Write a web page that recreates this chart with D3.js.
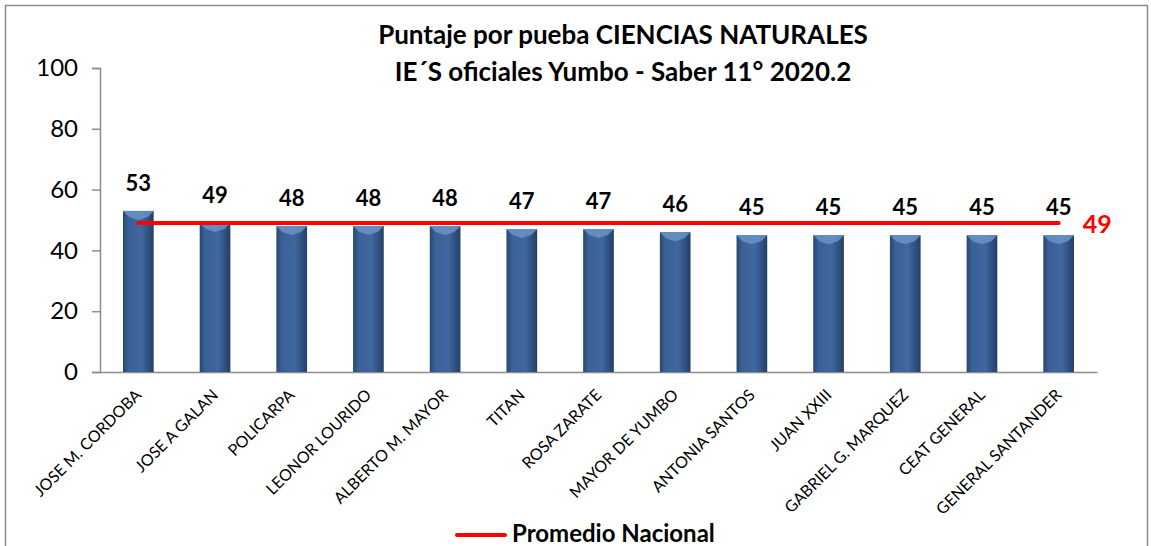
<!DOCTYPE html>
<meta charset="utf-8">
<head>
  <script src="https://d3js.org/d3.v7.min.js"></script>
  <style>
    body { margin: 0; background: #fff; }
    text { font-family: Lato, "Open Sans", sans-serif; }
  </style>
</head>
<body>
  <div id="chart"></div>
<script>
  // data
  var schools = ["JOSE M. CORDOBA", "JOSE A GALAN", "POLICARPA", "LEONOR LOURIDO",
    "ALBERTO M. MAYOR", "TITAN", "ROSA ZARATE", "MAYOR DE YUMBO", "ANTONIA SANTOS",
    "JUAN XXIII", "GABRIEL G. MARQUEZ", "CEAT GENERAL", "GENERAL SANTANDER"];
  var scores = [53, 49, 48, 48, 48, 47, 47, 46, 45, 45, 45, 45, 45];
  var promedio = 49;
  var yTicks = [0, 20, 40, 60, 80, 100];
  var titleLines = ["Puntaje por pueba CIENCIAS NATURALES", "IE´S oficiales Yumbo - Saber 11° 2020.2"];

  var W = 1151, H = 546;
  var margin = { top: 68, right: 54, bottom: 174, left: 100 },
    width = W - margin.left - margin.right,
    height = H - margin.top - margin.bottom;

  var root = d3.select("#chart").append("svg")
    .attr("width", W).attr("height", H);

  // outer frame
  root.append("rect")
    .attr("x", 5.5).attr("y", 5.5)
    .attr("width", 1142).attr("height", 560)
    .attr("fill", "none").attr("stroke", "#8c8c8c").attr("stroke-width", 1.5);

  var defs = root.append("defs");
  var grad = defs.append("linearGradient").attr("id", "barGrad")
    .attr("x1", "0").attr("x2", "1").attr("y1", "0").attr("y2", "0");
  grad.append("stop").attr("offset", "0%").attr("stop-color", "#274770");
  grad.append("stop").attr("offset", "18%").attr("stop-color", "#3a6196");
  grad.append("stop").attr("offset", "60%").attr("stop-color", "#3f68a0");
  grad.append("stop").attr("offset", "100%").attr("stop-color", "#243f66");

  // title
  root.selectAll(".title").data(titleLines).enter().append("text")
    .attr("class", "title")
    .attr("x", 623).attr("y", function (d, i) { return 44 + i * 37; })
    .attr("text-anchor", "middle")
    .style("font-size", "26px").style("font-weight", "bold")
    .text(function (d) { return d; });

  var svg = root.append("g")
    .attr("transform", "translate(" + margin.left + "," + margin.top + ")");

  var x = d3.scaleBand().domain(schools).range([0, width]).paddingInner(0.6).paddingOuter(0.3);
  var y = d3.scaleLinear().domain([0, 100]).range([height, 0]);

  // y axis
  var yAxis = svg.append("g")
    .call(d3.axisLeft(y).tickValues(yTicks).tickSize(8).tickPadding(14));
  yAxis.select(".domain").attr("stroke", "#8c8c8c").attr("stroke-width", 1.5);
  yAxis.selectAll(".tick line").attr("stroke", "#8c8c8c").attr("stroke-width", 1.5);
  yAxis.selectAll("text")
    .style("font-family", "Lato, sans-serif").style("font-size", "24px").attr("fill", "#000");

  // x axis
  var xAxis = svg.append("g")
    .attr("transform", "translate(0," + height + ")")
    .call(d3.axisBottom(x).tickSize(0).tickPadding(0));
  xAxis.select(".domain").attr("stroke", "#8c8c8c").attr("stroke-width", 1.5);
  xAxis.selectAll("text")
    .style("font-family", "Lato, sans-serif").style("font-size", "16px").attr("fill", "#000")
    .attr("text-anchor", "end")
    .attr("dy", "0")
    .attr("transform", "translate(4,24) rotate(-45)");

  // bars
  var bars = svg.selectAll(".bar").data(scores).enter().append("g").attr("class", "bar");
  bars.append("rect")
    .attr("x", function (d, i) { return x(schools[i]); })
    .attr("y", function (d) { return y(d); })
    .attr("width", x.bandwidth())
    .attr("height", function (d) { return height - y(d); })
    .attr("fill", "url(#barGrad)");
  // bevel on top of each bar
  bars.append("path")
    .attr("d", function (d, i) {
      var x0 = x(schools[i]), bw = x.bandwidth(), t = y(d);
      return "M" + x0 + "," + t + "L" + (x0 + bw) + "," + t +
        "L" + (x0 + bw - 6) + "," + (t + 6) + "L" + (x0 + bw / 2) + "," + (t + 9) +
        "L" + (x0 + 6) + "," + (t + 6) + "Z";
    })
    .attr("fill", "#6a93c8").attr("opacity", 0.85);

  // value labels
  svg.selectAll(".val").data(scores).enter().append("text")
    .attr("class", "val")
    .attr("x", function (d, i) { return x(schools[i]) + x.bandwidth() / 2; })
    .attr("y", function (d) { return y(d) - 20; })
    .attr("text-anchor", "middle")
    .style("font-size", "22px").style("font-weight", "bold")
    .text(function (d) { return d; });

  // promedio nacional line
  var first = x(schools[0]) + x.bandwidth() / 2,
    last = x(schools[schools.length - 1]) + x.bandwidth() / 2;
  svg.append("line")
    .attr("x1", first).attr("x2", last)
    .attr("y1", y(promedio)).attr("y2", y(promedio))
    .attr("stroke", "#ff0000").attr("stroke-width", 4).attr("stroke-linecap", "round");
  svg.append("text")
    .attr("x", last + 24).attr("y", y(promedio) + 10)
    .attr("fill", "#ff0000")
    .style("font-size", "25px").style("font-weight", "bold")
    .text(promedio);

  // legend
  var leg = root.append("g").attr("transform", "translate(455,535)");
  leg.append("line").attr("x1", 2).attr("x2", 50).attr("y1", 0).attr("y2", 0)
    .attr("stroke", "#ff0000").attr("stroke-width", 4).attr("stroke-linecap", "round");
  leg.append("text").attr("x", 57).attr("y", 7)
    .style("font-size", "24px").style("font-weight", "bold")
    .text("Promedio Nacional");
</script>
</body>
